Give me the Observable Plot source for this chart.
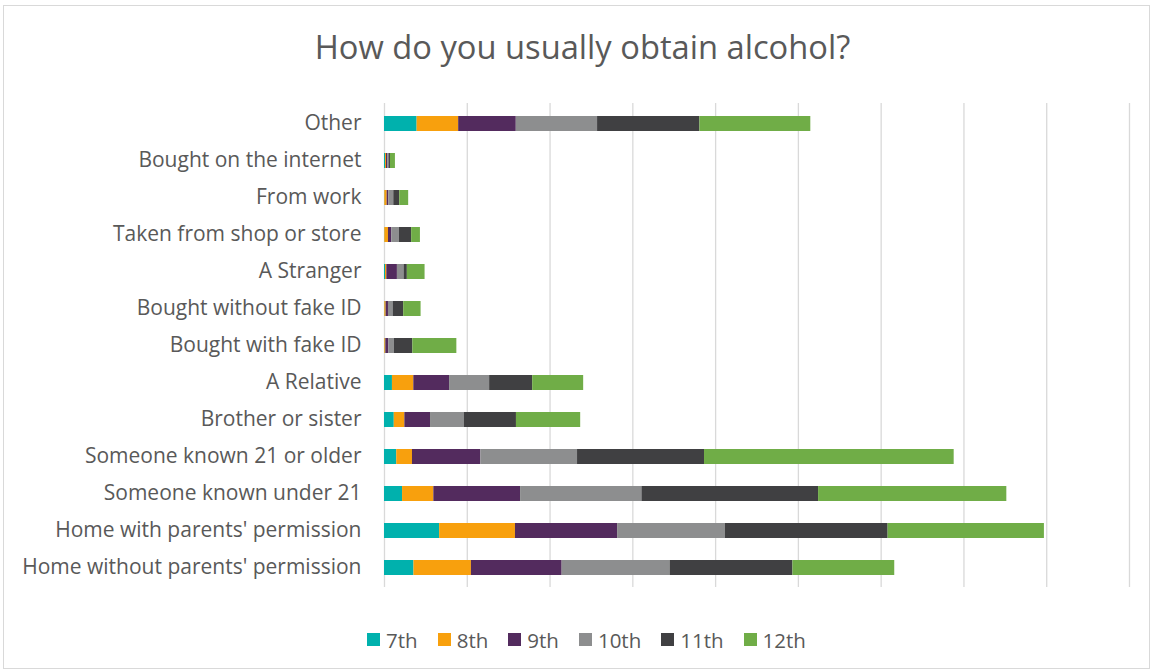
<!DOCTYPE html>
<html>
<head>
<meta charset="utf-8">
<script src="https://cdn.jsdelivr.net/npm/d3@7"></script>
<script src="https://cdn.jsdelivr.net/npm/@observablehq/plot@0.6"></script>
<style>
  body { margin: 0; background: #fff; font-family: "Open Sans", sans-serif; }
  #frame { position: absolute; left: 3px; top: 5px; width: 1147px; height: 664px; border: 1px solid #d9d9d9; box-sizing: border-box; }
  #chart { position: absolute; left: 0; top: 0; width: 1153px; }
  #title { height: 100px; box-sizing: border-box; padding-top: 27px; padding-left: 12px; line-height: 40px; font-size: 32.7px; color: #595959; text-align: center; }
  #legend { height: 72px; box-sizing: border-box; padding-top: 7px; padding-left: 20px; display: flex; justify-content: center; gap: 20px; font-size: 20.5px; line-height: 24px; color: #595959; }
  .item { display: flex; align-items: center; gap: 6px; }
  .sw { width: 13px; height: 13px; display: inline-block; }
</style>
</head>
<body>
<div id="frame"></div>
<div id="chart">
  <div id="title">How do you usually obtain alcohol?</div>
  <div id="plot"></div>
  <div id="legend"></div>
</div>
<script>
const categories = [
  "Other",
  "Bought on the internet",
  "From work",
  "Taken from shop or store",
  "A Stranger",
  "Bought without fake ID",
  "Bought with fake ID",
  "A Relative",
  "Brother or sister",
  "Someone known 21 or older",
  "Someone known under 21",
  "Home with parents' permission",
  "Home without parents' permission"
];
const grades = ["7th", "8th", "9th", "10th", "11th", "12th"];
const colors = ["#00b1ad", "#f8a00d", "#532b5e", "#8d8e8f", "#404042", "#70ad47"];

const g7  = [19.7, 0.6, 0.2, 0.2, 0.6, 0.2, 0.2, 4.8, 5.9, 7.4, 10.9, 33.3, 17.8];
const g8  = [25.1, 0.6, 1.4, 2.2, 0.8, 0.8, 0.6, 12.9, 6.4, 9.5, 18.9, 45.8, 34.7];
const g9  = [34.8, 0.9, 1.0, 2.0, 6.4, 1.4, 1.8, 21.6, 15.5, 41.3, 52.4, 61.7, 54.8];
const g10 = [49.1, 0.6, 3.0, 4.6, 4.0, 2.8, 3.4, 24.2, 20.5, 58.4, 73.3, 65.0, 65.2];
const g11 = [61.8, 0.9, 3.6, 7.4, 2.0, 6.4, 11.1, 26.0, 31.4, 76.7, 106.7, 98.4, 74.2];
const g12 = [67.0, 3.0, 5.4, 5.3, 10.7, 10.5, 26.6, 30.8, 38.8, 150.8, 113.7, 94.4, 61.5];

const gridTicks = [0, 50, 100, 150, 200, 250, 300, 350, 400, 450];

const series = [g7, g8, g9, g10, g11, g12];
const data = [];
grades.forEach((g, gi) => {
  categories.forEach((c, ci) => {
    data.push({category: c, grade: g, value: series[gi][ci]});
  });
});

const chart = Plot.plot({
  width: 1153,
  height: 500,
  marginLeft: 384,
  marginRight: 24,
  marginTop: 3,
  marginBottom: 13,
  style: {fontFamily: "'Open Sans', sans-serif", color: "#595959", background: "transparent"},
  x: {domain: [0, 450], axis: null},
  y: {domain: categories, paddingInner: 0.6, paddingOuter: 0.3, label: null},
  color: {domain: grades, range: colors},
  marks: [
    Plot.ruleX(gridTicks, {stroke: "#d9d9d9", strokeWidth: 1.3}),
    Plot.barX(data, Plot.stackX({x: "value", y: "category", fill: "grade", order: grades, inset: 0})),
    Plot.axisY({tickSize: 0, tickPadding: 23, fontSize: 21, label: null, dy: -1})
  ]
});
document.getElementById("plot").appendChild(chart);

const legend = document.getElementById("legend");
grades.forEach((g, i) => {
  const item = document.createElement("span");
  item.className = "item";
  const sw = document.createElement("span");
  sw.className = "sw";
  sw.style.background = colors[i];
  const t = document.createElement("span");
  t.textContent = g;
  item.appendChild(sw);
  item.appendChild(t);
  legend.appendChild(item);
});
</script>
</body>
</html>
